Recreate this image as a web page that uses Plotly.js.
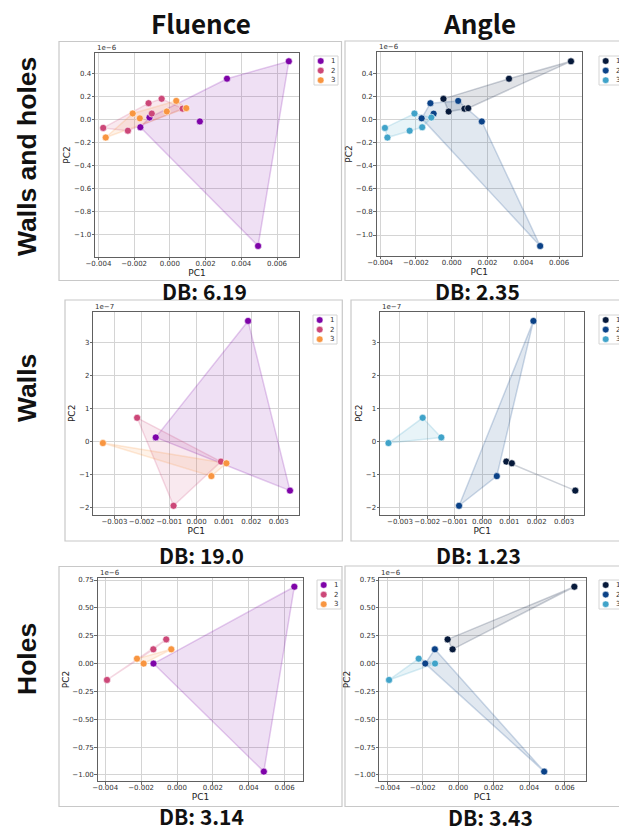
<!DOCTYPE html>
<html><head><meta charset="utf-8">
<script src="https://cdn.plot.ly/plotly-3.0.1.min.js"></script>
<style>html,body{margin:0;padding:0;background:#fff}#chart{width:619px;height:831px}</style>
</head><body><div id="chart"></div>
<script>
// ---------- DATA ----------
// Walls and holes (PC2 in units of 1e-6)
const whPC1 = [0.00666, 0.00320, -0.00165, -0.00114, 0.00168, 0.00494, -0.00373, -0.00235, -0.00119, -0.00046, -0.00101, 0.00071, -0.00359, -0.00208, -0.00168, -0.00017, 0.00036, 0.00092];
const whPC2 = [0.504, 0.353, -0.067, 0.017, -0.017, -1.095, -0.073, -0.097, 0.141, 0.179, 0.051, 0.094, -0.156, 0.052, 0.010, 0.069, 0.161, 0.098];
const whFluence = [1, 1, 1, 1, 1, 1, 2, 2, 2, 2, 2, 2, 3, 3, 3, 3, 3, 3];
const whAngle = [1, 1, 3, 3, 2, 2, 3, 3, 2, 1, 2, 1, 3, 3, 2, 1, 2, 1];

// Walls (PC2 in units of 1e-7)
const wPC1 = [0.00188, -0.00149, 0.00341, -0.00217, -0.00084, 0.00089, -0.00342, 0.00054, 0.00109];
const wPC2 = [3.65, 0.115, -1.50, 0.71, -1.96, -0.62, -0.057, -1.06, -0.67];
const wFluence = [1, 1, 1, 2, 2, 2, 3, 3, 3];
const wAngle = [2, 3, 1, 3, 2, 1, 3, 2, 1];

// Holes (PC2 in units of 1e-6)
const hPC1 = [0.00654, -0.00131, 0.00484, -0.00390, -0.00132, -0.00060, -0.00223, -0.00186, -0.00032];
const hPC2 = [0.69, 0.0, -0.97, -0.147, 0.128, 0.217, 0.044, 0.0, 0.128];
const hFluence = [1, 1, 1, 2, 2, 2, 3, 3, 3];
const hAngle = [1, 3, 2, 3, 2, 1, 3, 2, 1];

const classLabels = ['1', '2', '3'];
const fluenceColors = ['#7e03a8', '#cc4778', '#f89540'];
const angleColors = ['#06193a', '#0b4287', '#40a3c9'];
const colTitles = ['Fluence', 'Angle'];
const rowTitles = ['Walls and holes', 'Walls', 'Holes'];
const dbScores = ['DB: 6.19', 'DB: 2.35', 'DB: 19.0', 'DB: 1.23', 'DB: 3.14', 'DB: 3.43'];
const offsetLabels = ['1e\u22126', '1e\u22126', '1e\u22127', '1e\u22127', '1e\u22126', '1e\u22126'];

// ---------- LAYOUT GEOMETRY ----------
const W = 619, H = 831;
const px = x => x / W, py = y => 1 - y / H;
const datasets = {
  wh: {x: whPC1, y: whPC2, fluence: whFluence, angle: whAngle},
  w: {x: wPC1, y: wPC2, fluence: wFluence, angle: wAngle},
  h: {x: hPC1, y: hPC2, fluence: hFluence, angle: hAngle}
};
const panels = [
  {ds: 'wh', by: 'fluence', l: 95, r: 299, t: 53.3, b: 256.7, xr: [-0.00419, 0.00723], yr: [-1.188, 0.573], xd: 0.002, yd: 0.2, yf: '.1f', leg: [314, 56], frame: [59, 341.5, 41.5, 280.5]},
  {ds: 'wh', by: 'angle', l: 376.7, r: 581.7, t: 52.3, b: 255.7, xr: [-0.00419, 0.00726], yr: [-1.179, 0.582], xd: 0.002, yd: 0.2, yf: '.1f', leg: [599, 56], frame: [345, 640, 41, 280.5]},
  {ds: 'w', by: 'fluence', l: 93.3, r: 299.3, t: 311.7, b: 515, xr: [-0.00377, 0.00375], yr: [-2.24, 3.93], xd: 0.001, yd: 1, yf: 'd', leg: [313, 315], frame: [65, 342.3, 300, 541]},
  {ds: 'w', by: 'angle', l: 380, r: 584.3, t: 311.7, b: 515, xr: [-0.00373, 0.00374], yr: [-2.24, 3.93], xd: 0.001, yd: 1, yf: 'd', leg: [599, 315], frame: [351, 640, 300, 541]},
  {ds: 'h', by: 'fluence', l: 97.7, r: 303.3, t: 577.7, b: 781.3, xr: [-0.00442, 0.00704], yr: [-1.057, 0.771], xd: 0.002, yd: 0.25, yf: '.2f', leg: [317, 580], frame: [59, 342, 566.5, 806.5]},
  {ds: 'h', by: 'angle', l: 379.3, r: 585.7, t: 577.7, b: 781.3, xr: [-0.00445, 0.00718], yr: [-1.057, 0.771], xd: 0.002, yd: 0.25, yf: '.2f', leg: [599, 580], frame: [345, 640, 566, 806.5]}
];
const dbPos = [[204, 291], [477, 291], [201, 555], [478, 555], [201, 816], [490, 816.5]];
const colPos = [[201, 22], [479, 22]];
const rowPos = [[27, 157], [27, 388], [27, 659]];

function hexToRgba(hex, a) {
  const n = parseInt(hex.slice(1), 16);
  return `rgba(${(n >> 16) & 255},${(n >> 8) & 255},${n & 255},${a})`;
}
function convexHull(pts) {
  const p = pts.slice().sort((a, b) => a[0] - b[0] || a[1] - b[1]);
  if (p.length < 3) return p;
  const cross = (o, a, b) => (a[0] - o[0]) * (b[1] - o[1]) - (a[1] - o[1]) * (b[0] - o[0]);
  const lower = [], upper = [];
  for (const q of p) { while (lower.length >= 2 && cross(lower[lower.length - 2], lower[lower.length - 1], q) <= 0) lower.pop(); lower.push(q); }
  for (let i = p.length - 1; i >= 0; i--) { const q = p[i]; while (upper.length >= 2 && cross(upper[upper.length - 2], upper[upper.length - 1], q) <= 0) upper.pop(); upper.push(q); }
  upper.pop(); lower.pop();
  return lower.concat(upper);
}

const traces = [], shapes = [], annotations = [];
const layout = {
  width: W, height: H, margin: {l: 0, r: 0, t: 0, b: 0},
  paper_bgcolor: '#fff', plot_bgcolor: '#fff', showlegend: false,
  font: {family: 'DejaVu Sans', color: '#333'}
};

panels.forEach((p, i) => {
  const k = i + 1, xa = 'x' + k, ya = 'y' + k;
  const d = datasets[p.ds];
  const labels = d[p.by];
  const colors = p.by === 'fluence' ? fluenceColors : angleColors;
  // hulls first
  classLabels.forEach((lab, c) => {
    const pts = [];
    d.x.forEach((xv, j) => { if (labels[j] === c + 1) pts.push([xv, d.y[j]]); });
    const hull = convexHull(pts);
    hull.push(hull[0]);
    traces.push({type: 'scatter', mode: 'lines', xaxis: xa, yaxis: ya, x: hull.map(q => q[0]), y: hull.map(q => q[1]),
      fill: 'toself', fillcolor: hexToRgba(colors[c], 0.12), line: {color: hexToRgba(colors[c], 0.2), width: 1.5},
      hoverinfo: 'skip', showlegend: false});
  });
  classLabels.forEach((lab, c) => {
    const xs = [], ys = [];
    d.x.forEach((xv, j) => { if (labels[j] === c + 1) { xs.push(xv); ys.push(d.y[j]); } });
    traces.push({type: 'scatter', mode: 'markers', xaxis: xa, yaxis: ya, x: xs, y: ys, name: lab,
      marker: {color: colors[c], size: 7, line: {color: '#fff', width: 0.6}}, showlegend: false});
  });
  const common = {showgrid: true, gridcolor: '#d4d4d4', gridwidth: 1, zeroline: false, showline: true, mirror: true,
    linecolor: '#606060', linewidth: 1, ticks: 'outside', ticklen: 2.5, tickwidth: 0.8, tickcolor: '#444',
    tickangle: 0, automargin: false,
    tickfont: {family: 'DejaVu Sans', size: 7, color: '#333'}};
  layout['xaxis' + (k === 1 ? '' : k)] = Object.assign({}, common, {domain: [px(p.l), px(p.r)], anchor: ya, range: p.xr,
    dtick: p.xd, tick0: 0, tickformat: '.3f', ticklabelstandoff: -3,
    title: {text: 'PC1', font: {family: 'DejaVu Sans', size: 9, color: '#222'}, standoff: 0}});
  layout['yaxis' + (k === 1 ? '' : k)] = Object.assign({}, common, {domain: [py(p.b), py(p.t)], anchor: xa, range: p.yr,
    dtick: p.yd, tick0: 0, tickformat: p.yf, ticklabelstandoff: -1,
    title: {text: 'PC2', font: {family: 'DejaVu Sans', size: 9, color: '#222'}, standoff: 1}});
  // frame around each panel
  const f = p.frame;
  shapes.push({type: 'rect', xref: 'paper', yref: 'paper', x0: px(f[0]), x1: px(f[1]), y0: py(f[3]), y1: py(f[2]),
    line: {color: '#c8c8c8', width: 1.2}, layer: 'below'});
  // offset text
  annotations.push({xref: 'paper', yref: 'paper', x: px(p.l), y: py(p.t + 1), xanchor: 'left', yanchor: 'bottom',
    text: offsetLabels[i], showarrow: false, font: {family: 'DejaVu Sans', size: 7, color: '#333'}});
  // legend (matplotlib style)
  const [lx, ly] = p.leg;
  shapes.push({type: 'rect', xref: 'paper', yref: 'paper', x0: px(lx), x1: px(lx + 24), y0: py(ly + 29), y1: py(ly),
    line: {color: '#d4d4d4', width: 1}, fillcolor: 'rgba(255,255,255,0.85)'});
  classLabels.forEach((lab, c) => {
    const cy = ly + 5 + c * 9.6, cx = lx + 6.7, r = 3.3;
    shapes.push({type: 'circle', xref: 'paper', yref: 'paper', x0: px(cx - r), x1: px(cx + r), y0: py(cy + r), y1: py(cy - r),
      fillcolor: colors[c], line: {color: '#fff', width: 0.5}});
    annotations.push({xref: 'paper', yref: 'paper', x: px(lx + 14.5), y: py(cy), xanchor: 'left', yanchor: 'middle',
      text: lab, showarrow: false, font: {family: 'DejaVu Sans', size: 7, color: '#333'}});
  });
  // DB score
  annotations.push({xref: 'paper', yref: 'paper', x: px(dbPos[i][0]), y: py(dbPos[i][1]), xanchor: 'center', yanchor: 'middle',
    text: '<b>' + dbScores[i] + '</b>', showarrow: false, font: {family: 'Noto Sans CJK JP', size: 21, color: '#111'}});
});
colTitles.forEach((t, i) => annotations.push({xref: 'paper', yref: 'paper', x: px(colPos[i][0]), y: py(colPos[i][1]),
  xanchor: 'center', yanchor: 'middle', text: '<b>' + t + '</b>', showarrow: false,
  font: {family: 'Noto Sans CJK JP', size: 26, color: '#111'}}));
rowTitles.forEach((t, i) => annotations.push({xref: 'paper', yref: 'paper', x: px(rowPos[i][0]), y: py(rowPos[i][1]),
  xanchor: 'center', yanchor: 'middle', textangle: -90, text: '<b>' + t + '</b>', showarrow: false,
  font: {family: 'Liberation Sans', size: 26.5, color: '#111'}}));
layout.shapes = shapes;
layout.annotations = annotations;
Plotly.newPlot('chart', traces, layout, {displayModeBar: false, staticPlot: true});
</script></body></html>
